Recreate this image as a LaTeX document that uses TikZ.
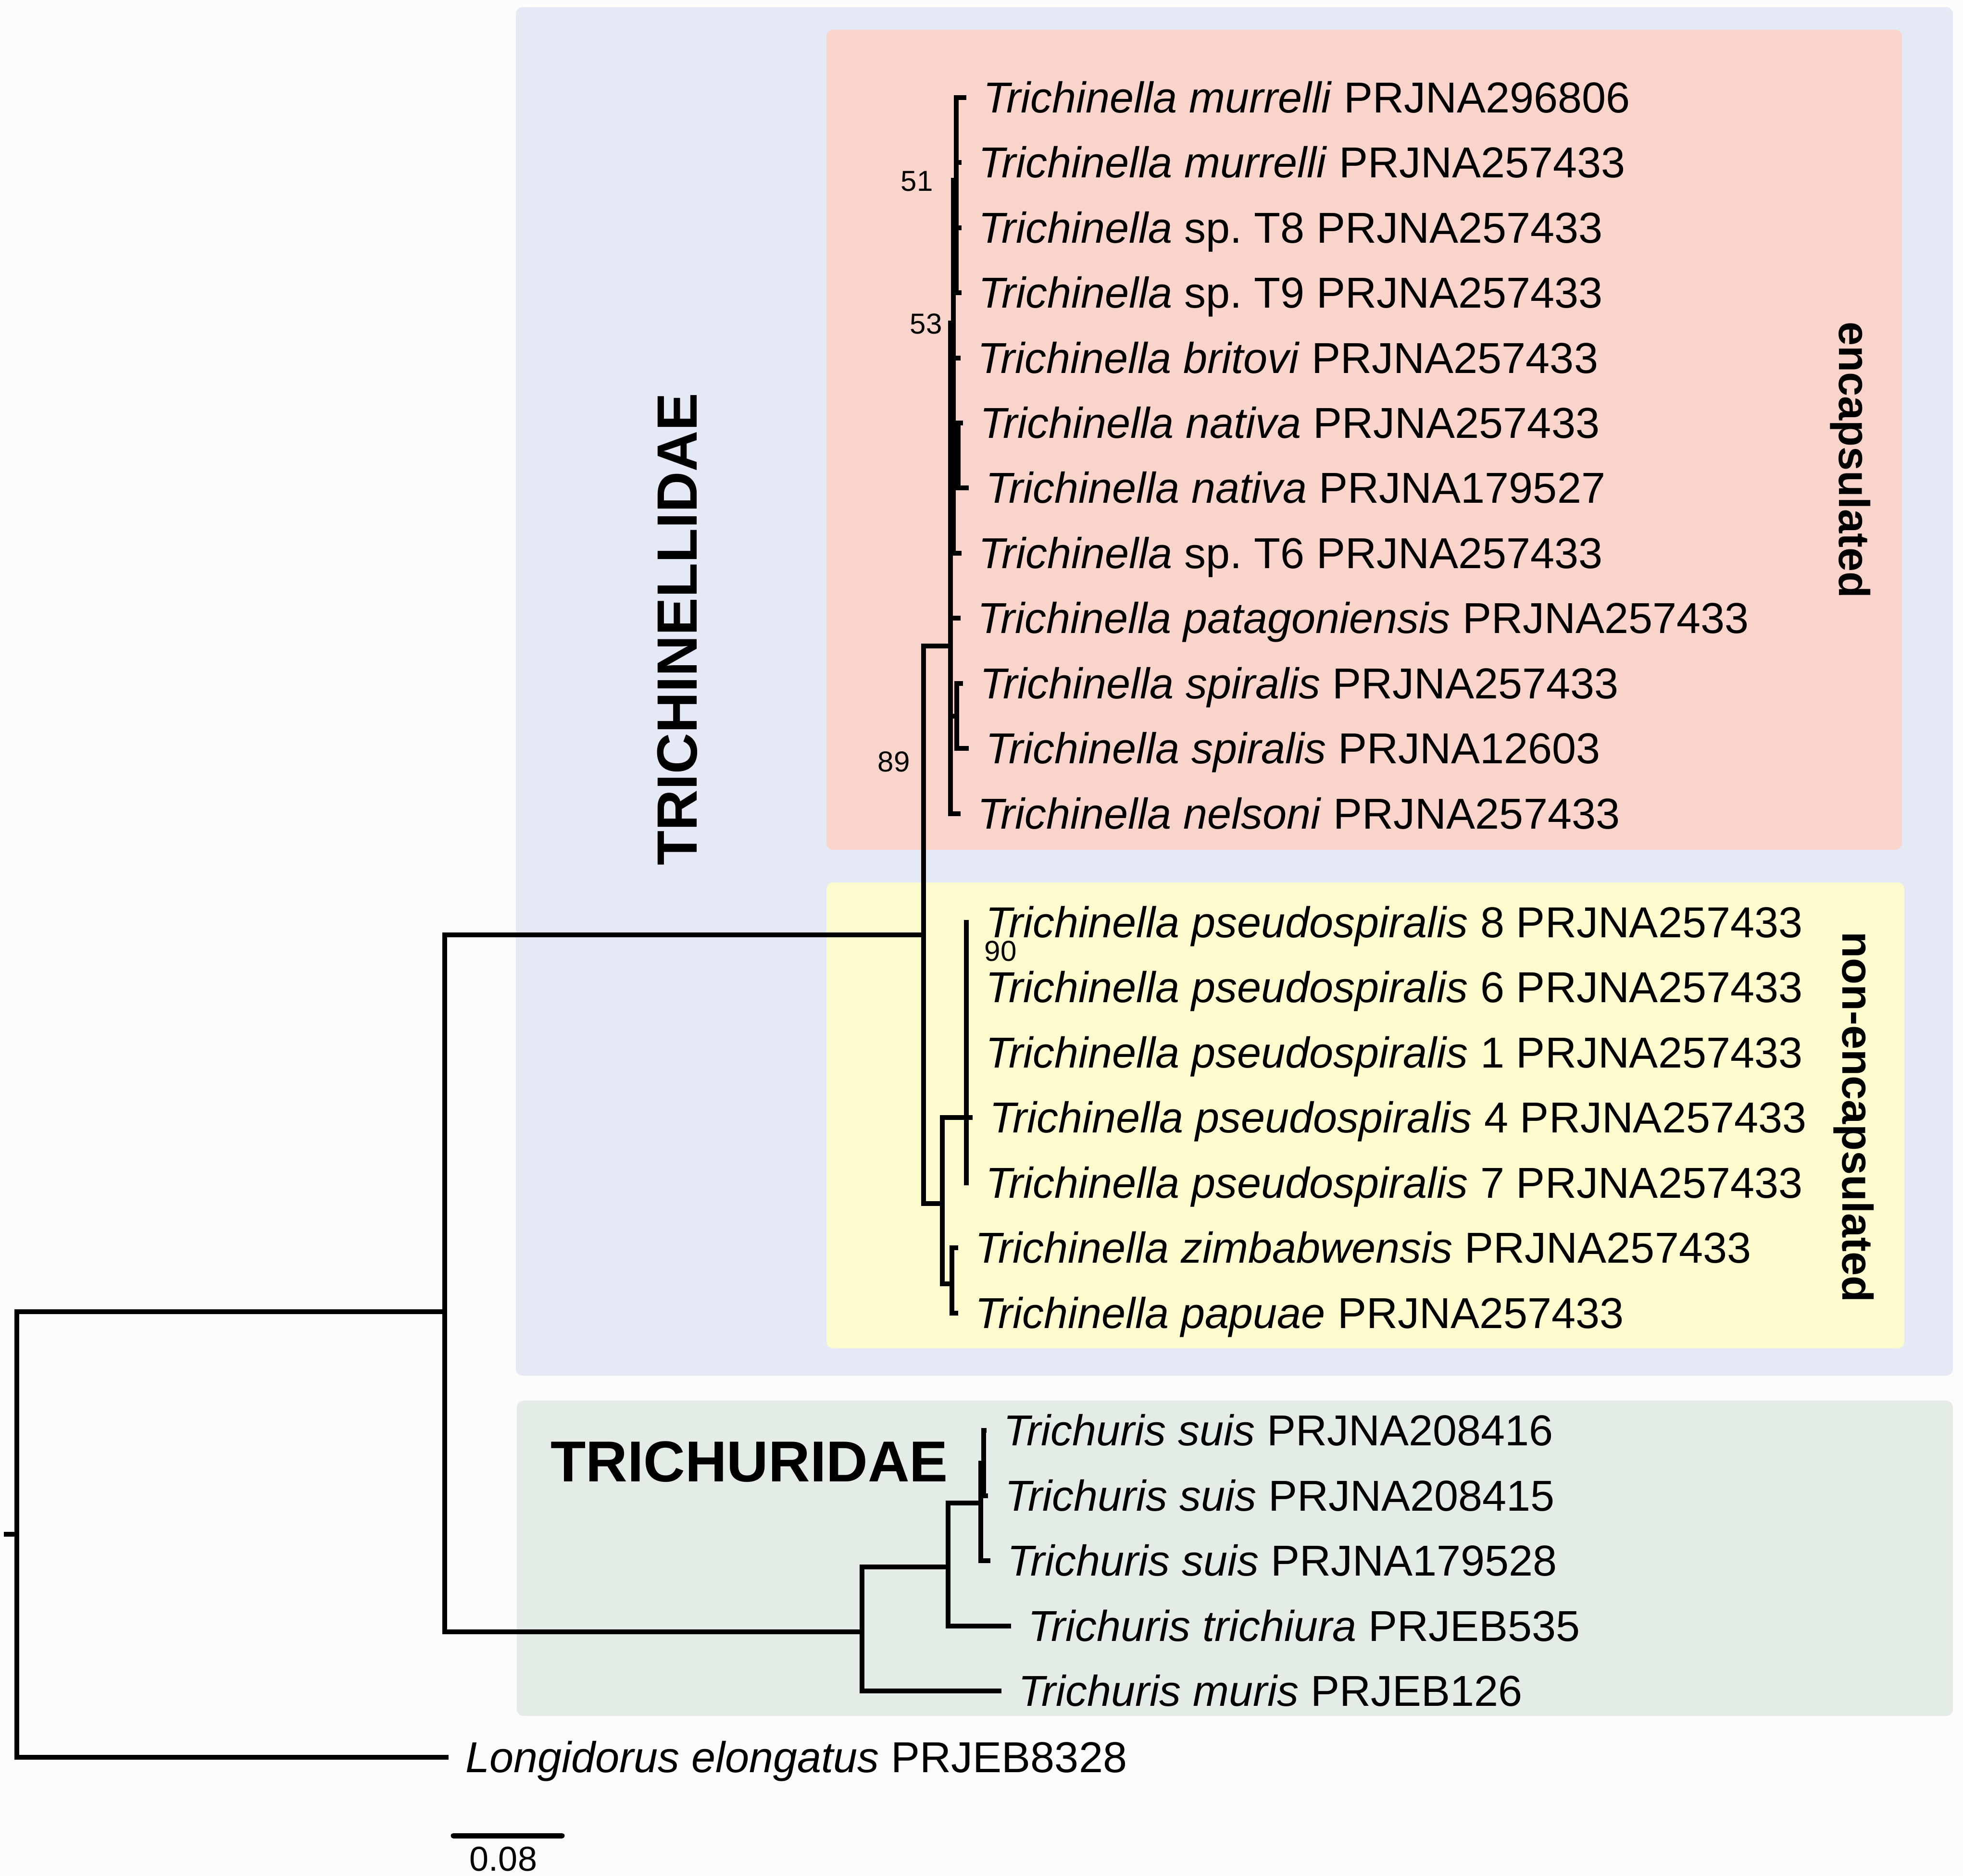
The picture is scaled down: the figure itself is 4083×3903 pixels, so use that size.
\documentclass[tikz,border=0pt]{standalone}
\usepackage{fontspec}
\setmainfont{Liberation Sans}
\definecolor{bgblue}{RGB}{228,233,245}
\definecolor{bgpink}{RGB}{249,212,203}
\definecolor{bgyellow}{RGB}{254,252,207}
\definecolor{bggreen}{RGB}{228,237,229}
\tikzset{
  br/.style={line width=10pt, line cap=rect, line join=miter},
  lab/.style={anchor=base west, inner sep=0pt, xshift=40pt, yshift=-31pt, font=\fontsize{90}{100}\selectfont},
  boot/.style={inner sep=0pt, font=\fontsize{60}{70}\selectfont},
  bgbox/.style={rounded corners=14pt, draw=none},
  grp/.style={inner sep=0pt, font=\bfseries\fontsize{90}{100}\selectfont},
}
\begin{document}
\begin{tikzpicture}[x=1pt,y=-1pt]
\useasboundingbox (0,0) rectangle (4083,3903);
\fill[white!99!black] (0,0) rectangle (4083,3903);
% background boxes
\fill[bgblue,bgbox] (1073,15) rectangle (4062,2862);
\fill[bgpink,bgbox] (1719,62) rectangle (3956,1768);
\fill[bgyellow,bgbox] (1719,1836) rectangle (3961,2805);
\fill[bggreen,bgbox] (1075,2914) rectangle (4062,3570);
% group labels
\node[rotate=90, anchor=base, inner sep=0pt, font=\bfseries\fontsize{118}{124}\selectfont] (famA) at (1449,1309) {TRICHINELLIDAE};
\node[anchor=base west, inner sep=0pt, font=\bfseries\fontsize{120}{126}\selectfont] (famB) at (1145,3082) {TRICHURIDAE};
\node[grp, rotate=-90, anchor=base] (gEnc) at (3825,957) {encapsulated};
\node[grp, rotate=-90, anchor=base] (gNon) at (3832,2324) {non-encapsulated};
% internal nodes
\coordinate (stub) at (13,3192);
\coordinate (root) at (35,3192);
\coordinate (I) at (925,2729);
\coordinate (T) at (1921,1945);
\coordinate (E) at (1977,1344);
\coordinate (N53) at (1983,672);
\coordinate (N51) at (1989,375);
\coordinate (NAT) at (1993,948);
\coordinate (SPI) at (1990,1490);
\coordinate (NE) at (1960,2504);
\coordinate (PS) at (2010,2325);
\coordinate (ZP) at (1980,2671);
\coordinate (U) at (1793,3395);
\coordinate (U2) at (1972,3260);
\coordinate (SUIS) at (2040,3127);
\coordinate (S12) at (2046,3044);
% tips
\coordinate (t1) at (2005,203);
\coordinate (t2) at (1995,338);
\coordinate (t3) at (1995,474);
\coordinate (t4) at (1995,609);
\coordinate (t5) at (1993,745);
\coordinate (t6) at (1998,880);
\coordinate (t7) at (2010,1015);
\coordinate (t8) at (1995,1151);
\coordinate (t9) at (1993,1286);
\coordinate (t10) at (1998,1422);
\coordinate (t11) at (2010,1557);
\coordinate (t12) at (1993,1693);
\coordinate (t13) at (2010,1919);
\coordinate (t14) at (2010,2054);
\coordinate (t15) at (2010,2190);
\coordinate (t16) at (2018,2325);
\coordinate (t17) at (2010,2461);
\coordinate (t18) at (1988,2596);
\coordinate (t19) at (1988,2732);
\coordinate (t20) at (2047,2976);
\coordinate (t21) at (2050,3112);
\coordinate (t22) at (2055,3247);
\coordinate (t23) at (2098,3383);
\coordinate (t24) at (2078,3518);
\coordinate (t25) at (928,3656);
% branches
\draw[br] (stub) -- (root);
\draw[br] (root) |- (I);
\draw[br] (root) |- (t25);
\draw[br] (I) |- (T);
\draw[br] (I) |- (U);
\draw[br] (T) |- (E);
\draw[br] (T) |- (NE);
\draw[br] (E) |- (N53);
\draw[br] (E) |- (t9);
\draw[br] (E) |- (SPI);
\draw[br] (E) |- (t12);
\draw[br] (N53) |- (N51);
\draw[br] (N53) |- (t5);
\draw[br] (N53) |- (NAT);
\draw[br] (N53) |- (t8);
\draw[br] (N51) |- (t1);
\draw[br] (N51) |- (t2);
\draw[br] (N51) |- (t3);
\draw[br] (N51) |- (t4);
\draw[br] (NAT) |- (t6);
\draw[br] (NAT) |- (t7);
\draw[br] (SPI) |- (t10);
\draw[br] (SPI) |- (t11);
\draw[br] (NE) |- (PS);
\draw[br] (NE) |- (ZP);
\draw[br] (PS) |- (t13);
\draw[br] (PS) |- (t14);
\draw[br] (PS) |- (t15);
\draw[br] (PS) |- (t16);
\draw[br] (PS) |- (t17);
\draw[br] (ZP) |- (t18);
\draw[br] (ZP) |- (t19);
\draw[br] (U) |- (U2);
\draw[br] (U) |- (t24);
\draw[br] (U2) |- (SUIS);
\draw[br] (U2) |- (t23);
\draw[br] (SUIS) |- (S12);
\draw[br] (SUIS) |- (t22);
\draw[br] (S12) |- (t20);
\draw[br] (S12) |- (t21);
% taxon labels
\node[lab] (l1) at (t1) {\textit{Trichinella murrelli} PRJNA296806};
\node[lab] (l2) at (t2) {\textit{Trichinella murrelli} PRJNA257433};
\node[lab] (l3) at (t3) {\textit{Trichinella} sp.\ T8 PRJNA257433};
\node[lab] (l4) at (t4) {\textit{Trichinella} sp.\ T9 PRJNA257433};
\node[lab] (l5) at (t5) {\textit{Trichinella britovi} PRJNA257433};
\node[lab] (l6) at (t6) {\textit{Trichinella nativa} PRJNA257433};
\node[lab] (l7) at (t7) {\textit{Trichinella nativa} PRJNA179527};
\node[lab] (l8) at (t8) {\textit{Trichinella} sp.\ T6 PRJNA257433};
\node[lab] (l9) at (t9) {\textit{Trichinella patagoniensis} PRJNA257433};
\node[lab] (l10) at (t10) {\textit{Trichinella spiralis} PRJNA257433};
\node[lab] (l11) at (t11) {\textit{Trichinella spiralis} PRJNA12603};
\node[lab] (l12) at (t12) {\textit{Trichinella nelsoni} PRJNA257433};
\node[lab] (l13) at (t13) {\textit{Trichinella pseudospiralis} 8 PRJNA257433};
\node[lab] (l14) at (t14) {\textit{Trichinella pseudospiralis} 6 PRJNA257433};
\node[lab] (l15) at (t15) {\textit{Trichinella pseudospiralis} 1 PRJNA257433};
\node[lab] (l16) at (t16) {\textit{Trichinella pseudospiralis} 4 PRJNA257433};
\node[lab] (l17) at (t17) {\textit{Trichinella pseudospiralis} 7 PRJNA257433};
\node[lab] (l18) at (t18) {\textit{Trichinella zimbabwensis} PRJNA257433};
\node[lab] (l19) at (t19) {\textit{Trichinella papuae} PRJNA257433};
\node[lab] (l20) at (t20) {\textit{Trichuris suis} PRJNA208416};
\node[lab] (l21) at (t21) {\textit{Trichuris suis} PRJNA208415};
\node[lab] (l22) at (t22) {\textit{Trichuris suis} PRJNA179528};
\node[lab] (l23) at (t23) {\textit{Trichuris trichiura} PRJEB535};
\node[lab] (l24) at (t24) {\textit{Trichuris muris} PRJEB126};
\node[lab] (l25) at (t25) {\textit{Longidorus elongatus} PRJEB8328};
% bootstrap values
\node[boot] (b51) at (1907,377) {51};
\node[boot] (b53) at (1926,674) {53};
\node[boot] (b89) at (1859,1585) {89};
\node[boot] (b90) at (2081,1979) {90};
% scale bar
\coordinate (sb1) at (943,3819);
\coordinate (sb2) at (1169,3819);
\draw[line width=11pt, line cap=round] (sb1) -- (sb2);
\node[anchor=base, inner sep=0pt, font=\fontsize{72}{80}\selectfont] (sbl) at (1047,3892) {0.08};
\end{tikzpicture}
\end{document}
